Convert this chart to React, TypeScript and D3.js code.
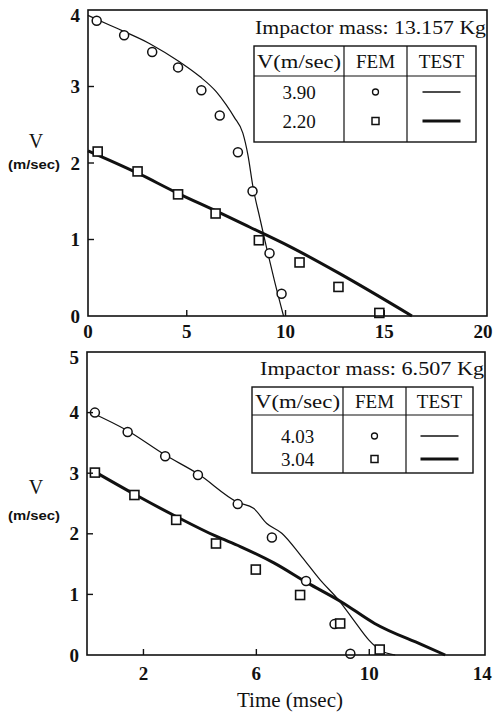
import React, { FC, useMemo } from 'react'
import * as d3 from 'd3'

// upper panel: impactor mass 13.157 Kg
const upperFemTimeA = [0.44, 1.83, 3.25, 4.56, 5.74, 6.67, 7.59, 8.33, 9.19, 9.8]
const upperFemVelA = [3.86, 3.67, 3.45, 3.25, 2.95, 2.62, 2.14, 1.63, 0.82, 0.29]
const upperFemTimeB = [0.49, 2.51, 4.56, 6.46, 8.65, 10.71, 12.68, 14.75]
const upperFemVelB = [2.15, 1.89, 1.59, 1.34, 0.99, 0.7, 0.38, 0.04]
const upperTestTimeA = [0, 1.11, 3.13, 4.65, 5.66, 6.5, 7.0, 7.4, 7.84, 8.1, 8.35, 8.7, 9.05, 9.45, 9.9]
const upperTestVelA = [3.93, 3.8, 3.56, 3.32, 3.13, 2.93, 2.76, 2.6, 2.39, 2.1, 1.69, 1.28, 0.88, 0.45, 0]
const upperTestTimeB = [0, 2.5, 4.5, 6.5, 8.2, 10.2, 12.7, 16.4]
const upperTestVelB = [2.16, 1.87, 1.61, 1.37, 1.16, 0.91, 0.56, 0]
const upperXTicks = [0, 5, 10, 15, 20]
const upperYTicks = [0, 1, 2, 3, 4]
const upperMass = 'Impactor mass: 13.157 Kg'
const upperSpeeds = ['3.90', '2.20']

// lower panel: impactor mass 6.507 Kg
const lowerFemTimeA = [0.28, 1.44, 2.77, 3.93, 5.34, 6.55, 7.76, 8.77, 9.33]
const lowerFemVelA = [4.0, 3.68, 3.28, 2.97, 2.49, 1.94, 1.22, 0.51, 0.02]
const lowerFemTimeB = [0.28, 1.68, 3.16, 4.57, 5.98, 7.55, 8.97, 10.37]
const lowerFemVelB = [3.01, 2.64, 2.23, 1.84, 1.41, 0.99, 0.52, 0.09]
const lowerTestTimeA = [0.11, 1.44, 2.77, 3.93, 5.34, 5.9, 6.37, 6.9, 7.61, 8.26, 8.91, 9.44, 9.98, 10.39, 10.92]
const lowerTestVelA = [4.01, 3.7, 3.3, 2.99, 2.52, 2.42, 2.17, 2.01, 1.62, 1.24, 0.91, 0.58, 0.25, 0.08, 0]
const lowerTestTimeB = [0.25, 1.65, 3.14, 4.57, 5.43, 6.62, 7.81, 9.0, 10.19, 11.86, 12.69]
const lowerTestVelB = [3.03, 2.66, 2.29, 1.96, 1.79, 1.52, 1.19, 0.88, 0.52, 0.17, 0]
const lowerXTicks = [2, 6, 10, 14]
const lowerYTicks = [0, 1, 2, 3, 4, 5]
const lowerMass = 'Impactor mass: 6.507 Kg'
const lowerSpeeds = ['4.03', '3.04']

const tableHeader = ['V(m/sec)', 'FEM', 'TEST']

const SERIF = '"Liberation Serif", "Times New Roman", serif'
const SANS = '"Liberation Sans", Arial, sans-serif'

type Pt = [number, number]
const zip = (t: number[], v: number[]): Pt[] => t.map((d, i) => [d, v[i]])

interface IBox {
	left: number
	right: number
	top: number
	bottom: number
	xMax: number
	yMax: number
	xTicks: number[]
	yTicks: number[]
	xLabelY: number
	yLabelY: number
	unitY: number
}

interface ILegend {
	titleY: number
	cols: number[]
	rows: number[]
	rowY: number[]
	titleLen: number
}

interface IPanelProps {
	box: IBox
	legend: ILegend
	title: string
	speeds: string[]
	femA: Pt[]
	femB: Pt[]
	testA: Pt[]
	testB: Pt[]
}

const Panel: FC<IPanelProps> = ({ box, legend, title, speeds, femA, femB, testA, testB }) => {
	const x = useMemo(() => d3.scaleLinear().domain([0, box.xMax]).range([box.left, box.right]), [box])
	const y = useMemo(() => d3.scaleLinear().domain([0, box.yMax]).range([box.bottom, box.top]), [box])
	const line = d3
		.line<Pt>()
		.x(d => x(d[0]))
		.y(d => y(d[1]))
		.curve(d3.curveMonotoneX)

	const [c0, c1, c2, c3] = legend.cols
	const [r0, r1, r2] = legend.rows
	const colMid = [(c0 + c1) / 2, (c1 + c2) / 2, (c2 + c3) / 2]

	return (
		<g>
			{/* data */}
			<path d={line(testA) || ''} fill="none" stroke="#111" strokeWidth={1.2} />
			<path d={line(testB) || ''} fill="none" stroke="#111" strokeWidth={3} />
			{femA.map((d, i) => (
				<circle key={'a' + i} cx={x(d[0])} cy={y(d[1])} r={4.5} fill="#fff" stroke="#111" strokeWidth={1.5} />
			))}
			{femB.map((d, i) => (
				<rect
					key={'b' + i}
					x={x(d[0]) - 4.5}
					y={y(d[1]) - 4.5}
					width={9}
					height={9}
					fill="#fff"
					stroke="#111"
					strokeWidth={1.6}
				/>
			))}

			{/* frame + ticks */}
			<rect
				x={box.left}
				y={box.top}
				width={box.right - box.left}
				height={box.bottom - box.top}
				fill="none"
				stroke="#111"
				strokeWidth={1.6}
			/>
			{box.yTicks.map(t => (
				<g key={'y' + t}>
					{t > 0 && t < box.yMax && (
						<line x1={box.left} x2={box.left + 6} y1={y(t)} y2={y(t)} stroke="#111" strokeWidth={1.4} />
					)}
					<text
						x={box.left - 8}
						y={t === box.yMax ? y(t) + 5 : y(t)}
						dy="0.35em"
						textAnchor="end"
						fontFamily={SERIF}
						fontSize={19}
						fontWeight="bold"
						fill="#111"
					>
						{t}
					</text>
				</g>
			))}
			{box.xTicks.map(t => (
				<g key={'x' + t}>
					{t > 0 && x(t) < box.right - 6 && (
						<line x1={x(t)} x2={x(t)} y1={box.bottom} y2={box.bottom - 6} stroke="#111" strokeWidth={1.4} />
					)}
					<text
						x={x(t)}
						y={box.xLabelY}
						textAnchor="middle"
						fontFamily={SERIF}
						fontSize={19}
						fontWeight="bold"
						fill="#111"
					>
						{t}
					</text>
				</g>
			))}
			<text x={36} y={box.yLabelY} textAnchor="middle" fontFamily={SERIF} fontSize={20} fill="#111">
				V
			</text>
			<text
				x={34}
				y={box.unitY}
				textAnchor="middle"
				fontFamily={SANS}
				fontSize={12}
				fontWeight="bold"
				textLength={52}
				lengthAdjust="spacingAndGlyphs"
				fill="#111"
			>
				(m/sec)
			</text>

			{/* legend table */}
			<text
				x={box.right - 1}
				y={legend.titleY}
				textAnchor="end"
				fontFamily={SERIF}
				fontSize={19}
				textLength={legend.titleLen}
				lengthAdjust="spacingAndGlyphs"
				fill="#111"
			>
				{title}
			</text>
			<rect x={c0} y={r0} width={c3 - c0} height={r2 - r0} fill="#fff" stroke="#111" strokeWidth={1.4} />
			<line x1={c0} x2={c3} y1={r1} y2={r1} stroke="#111" strokeWidth={1.2} />
			<line x1={c1} x2={c1} y1={r0} y2={r2} stroke="#111" strokeWidth={1.2} />
			<line x1={c2} x2={c2} y1={r0} y2={r2} stroke="#111" strokeWidth={1.2} />
			{tableHeader.map((h, i) => (
				<text
					key={h}
					x={colMid[i]}
					y={(r0 + r1) / 2}
					dy="0.35em"
					textAnchor="middle"
					fontFamily={SERIF}
					fontSize={19}
					textLength={i === 0 ? c1 - c0 - 6 : undefined}
					lengthAdjust="spacingAndGlyphs"
					fill="#111"
				>
					{h}
				</text>
			))}
			{speeds.map((s, i) => (
				<g key={s}>
					<text
						x={colMid[0]}
						y={legend.rowY[i]}
						dy="0.35em"
						textAnchor="middle"
						fontFamily={SERIF}
						fontSize={19}
						fill="#111"
					>
						{s}
					</text>
					{i === 0 ? (
						<circle cx={colMid[1]} cy={legend.rowY[i]} r={3} fill="#fff" stroke="#111" strokeWidth={1.3} />
					) : (
						<rect
							x={colMid[1] - 3.5}
							y={legend.rowY[i] - 3.5}
							width={7}
							height={7}
							fill="#fff"
							stroke="#111"
							strokeWidth={1.5}
						/>
					)}
					<line
						x1={colMid[2] - 19}
						x2={colMid[2] + 19}
						y1={legend.rowY[i]}
						y2={legend.rowY[i]}
						stroke="#111"
						strokeWidth={i === 0 ? 1.3 : 3}
					/>
				</g>
			))}
		</g>
	)
}

const upperBox: IBox = {
	left: 88,
	right: 487,
	top: 10,
	bottom: 316,
	xMax: 20.2,
	yMax: 4,
	xTicks: upperXTicks,
	yTicks: upperYTicks,
	xLabelY: 338,
	yLabelY: 148,
	unitY: 169
}

const lowerBox: IBox = {
	left: 87,
	right: 485,
	top: 352,
	bottom: 655,
	xMax: 14.1,
	yMax: 5,
	xTicks: lowerXTicks,
	yTicks: lowerYTicks,
	xLabelY: 680,
	yLabelY: 494,
	unitY: 520
}

const upperLegend: ILegend = {
	titleY: 34,
	cols: [254, 344, 407, 476],
	rows: [46, 76, 142],
	rowY: [92, 121],
	titleLen: 231
}

const lowerLegend: ILegend = {
	titleY: 375,
	cols: [252, 343, 406, 473],
	rows: [387, 415, 473],
	rowY: [436, 459],
	titleLen: 224
}

const App: FC = () => {
	return (
		<svg
			width={498}
			height={715}
			style={{ position: 'absolute', left: 0, top: 0, background: '#fff' }}
		>
			<Panel
				box={upperBox}
				legend={upperLegend}
				title={upperMass}
				speeds={upperSpeeds}
				femA={zip(upperFemTimeA, upperFemVelA)}
				femB={zip(upperFemTimeB, upperFemVelB)}
				testA={zip(upperTestTimeA, upperTestVelA)}
				testB={zip(upperTestTimeB, upperTestVelB)}
			/>
			<Panel
				box={lowerBox}
				legend={lowerLegend}
				title={lowerMass}
				speeds={lowerSpeeds}
				femA={zip(lowerFemTimeA, lowerFemVelA)}
				femB={zip(lowerFemTimeB, lowerFemVelB)}
				testA={zip(lowerTestTimeA, lowerTestVelA)}
				testB={zip(lowerTestTimeB, lowerTestVelB)}
			/>
			<text x={290} y={707} textAnchor="middle" fontFamily={SERIF} fontSize={21} fill="#111">
				Time (msec)
			</text>
		</svg>
	)
}

export default App
